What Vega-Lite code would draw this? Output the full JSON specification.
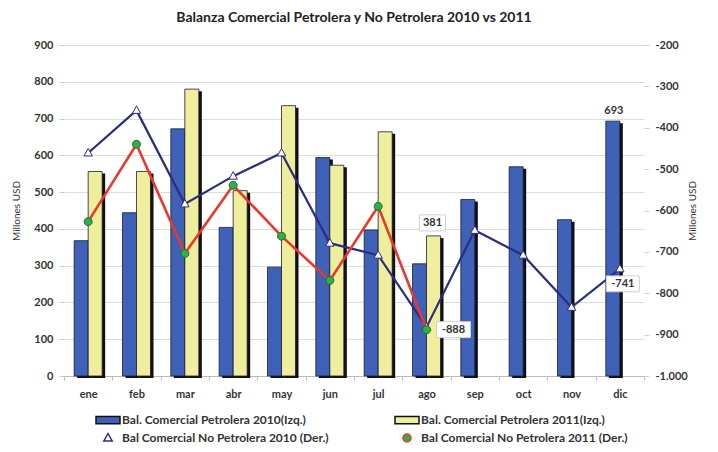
{
  "$schema": "https://vega.github.io/schema/vega-lite/v6.json",
  "width": 580,
  "height": 331,
  "padding": {"left": 11, "top": 11, "right": 5, "bottom": 0},
  "background": "white",
  "title": {"text": "Balanza Comercial Petrolera y No Petrolera 2010 vs 2011", "font": "Lato", "fontSize": 14, "fontWeight": "bold", "color": "#222", "anchor": "middle", "offset": 14},
  "config": {"view": {"stroke": null}, "font": "Lato"},
  "datasets": {
    "barras": [
      {"mes": "ene", "serie": "Bal. Comercial Petrolera 2010(Izq.)", "valor": 368},
      {"mes": "feb", "serie": "Bal. Comercial Petrolera 2010(Izq.)", "valor": 444},
      {"mes": "mar", "serie": "Bal. Comercial Petrolera 2010(Izq.)", "valor": 672},
      {"mes": "abr", "serie": "Bal. Comercial Petrolera 2010(Izq.)", "valor": 404},
      {"mes": "may", "serie": "Bal. Comercial Petrolera 2010(Izq.)", "valor": 296},
      {"mes": "jun", "serie": "Bal. Comercial Petrolera 2010(Izq.)", "valor": 594},
      {"mes": "jul", "serie": "Bal. Comercial Petrolera 2010(Izq.)", "valor": 397},
      {"mes": "ago", "serie": "Bal. Comercial Petrolera 2010(Izq.)", "valor": 305},
      {"mes": "sep", "serie": "Bal. Comercial Petrolera 2010(Izq.)", "valor": 480},
      {"mes": "oct", "serie": "Bal. Comercial Petrolera 2010(Izq.)", "valor": 569},
      {"mes": "nov", "serie": "Bal. Comercial Petrolera 2010(Izq.)", "valor": 425},
      {"mes": "dic", "serie": "Bal. Comercial Petrolera 2010(Izq.)", "valor": 693},
      {"mes": "ene", "serie": "Bal. Comercial Petrolera 2011(Izq.)", "valor": 556},
      {"mes": "feb", "serie": "Bal. Comercial Petrolera 2011(Izq.)", "valor": 556},
      {"mes": "mar", "serie": "Bal. Comercial Petrolera 2011(Izq.)", "valor": 780},
      {"mes": "abr", "serie": "Bal. Comercial Petrolera 2011(Izq.)", "valor": 504},
      {"mes": "may", "serie": "Bal. Comercial Petrolera 2011(Izq.)", "valor": 735},
      {"mes": "jun", "serie": "Bal. Comercial Petrolera 2011(Izq.)", "valor": 573},
      {"mes": "jul", "serie": "Bal. Comercial Petrolera 2011(Izq.)", "valor": 664},
      {"mes": "ago", "serie": "Bal. Comercial Petrolera 2011(Izq.)", "valor": 381}
    ],
    "lineas": [
      {"mes": "ene", "serie": "Bal Comercial No Petrolera 2010 (Der.)", "valor": -461},
      {"mes": "feb", "serie": "Bal Comercial No Petrolera 2010 (Der.)", "valor": -358},
      {"mes": "mar", "serie": "Bal Comercial No Petrolera 2010 (Der.)", "valor": -584},
      {"mes": "abr", "serie": "Bal Comercial No Petrolera 2010 (Der.)", "valor": -517},
      {"mes": "may", "serie": "Bal Comercial No Petrolera 2010 (Der.)", "valor": -461},
      {"mes": "jun", "serie": "Bal Comercial No Petrolera 2010 (Der.)", "valor": -679},
      {"mes": "jul", "serie": "Bal Comercial No Petrolera 2010 (Der.)", "valor": -708},
      {"mes": "ago", "serie": "Bal Comercial No Petrolera 2010 (Der.)", "valor": -882},
      {"mes": "sep", "serie": "Bal Comercial No Petrolera 2010 (Der.)", "valor": -648},
      {"mes": "oct", "serie": "Bal Comercial No Petrolera 2010 (Der.)", "valor": -708},
      {"mes": "nov", "serie": "Bal Comercial No Petrolera 2010 (Der.)", "valor": -834},
      {"mes": "dic", "serie": "Bal Comercial No Petrolera 2010 (Der.)", "valor": -741},
      {"mes": "ene", "serie": "Bal Comercial No Petrolera 2011 (Der.)", "valor": -627},
      {"mes": "feb", "serie": "Bal Comercial No Petrolera 2011 (Der.)", "valor": -440},
      {"mes": "mar", "serie": "Bal Comercial No Petrolera 2011 (Der.)", "valor": -704},
      {"mes": "abr", "serie": "Bal Comercial No Petrolera 2011 (Der.)", "valor": -539},
      {"mes": "may", "serie": "Bal Comercial No Petrolera 2011 (Der.)", "valor": -662},
      {"mes": "jun", "serie": "Bal Comercial No Petrolera 2011 (Der.)", "valor": -769},
      {"mes": "jul", "serie": "Bal Comercial No Petrolera 2011 (Der.)", "valor": -590},
      {"mes": "ago", "serie": "Bal Comercial No Petrolera 2011 (Der.)", "valor": -888}
    ]
  },
  "encoding": {
    "x": {
      "field": "mes", "type": "nominal",
      "sort": ["ene", "feb", "mar", "abr", "may", "jun", "jul", "ago", "sep", "oct", "nov", "dic"],
      "scale": {"paddingInner": 0, "paddingOuter": 0},
      "axis": {"title": null, "labelAngle": 0, "labelFont": "Lato", "labelFontWeight": "bold", "labelFontSize": 11, "labelColor": "#333", "labelPadding": 8, "tickBand": "extent", "tickSize": 4, "tickColor": "#bbb", "domainColor": "#bbb"}
    }
  },
  "layer": [
    {
      "data": {"name": "barras"},
      "encoding": {
        "y": {
          "field": "valor", "type": "quantitative",
          "scale": {"domain": [0, 900], "nice": false},
          "axis": {"orient": "left", "title": "Millones USD", "titleFont": "Lato", "titleFontWeight": "normal", "titleFontSize": 10, "titleColor": "#333", "titlePadding": 12, "values": [0, 100, 200, 300, 400, 500, 600, 700, 800, 900], "labelFont": "Lato", "labelFontWeight": "bold", "labelFontSize": 11, "labelColor": "#333", "labelPadding": 6, "grid": true, "gridColor": "#dcdcdc", "domain": false, "tickColor": "#ccc", "tickSize": 5}
        }
      },
      "layer": [
        {
          "transform": [{"filter": "datum.serie == 'Bal. Comercial Petrolera 2010(Izq.)'"}],
          "mark": {"type": "bar", "color": "#111", "width": {"band": 0.29}, "xOffset": -4, "yOffset": 2}
        },
        {
          "transform": [{"filter": "datum.serie == 'Bal. Comercial Petrolera 2011(Izq.)'"}],
          "mark": {"type": "bar", "color": "#111", "width": {"band": 0.29}, "xOffset": 10, "yOffset": 2}
        },
        {
          "transform": [{"filter": "datum.serie == 'Bal. Comercial Petrolera 2010(Izq.)'"}],
          "mark": {"type": "bar", "width": {"band": 0.29}, "xOffset": -7, "stroke": "#1a1a3a", "strokeWidth": 0.8},
          "encoding": {
            "fill": {
              "field": "serie", "type": "nominal",
              "scale": {
                "domain": ["Bal. Comercial Petrolera 2010(Izq.)", "Bal Comercial No Petrolera 2010 (Der.)", "Bal. Comercial Petrolera 2011(Izq.)", "Bal Comercial No Petrolera 2011 (Der.)"],
                "range": ["#3f61b8", "#ffffff", "#eeee9c", "#2fae4a"]
              },
              "legend": {
                "title": null, "orient": "none", "legendX": 33, "legendY": 364, "columns": 2, "columnPadding": 63, "rowPadding": 0,
                "labelFont": "Lato", "labelFontWeight": "bold", "labelFontSize": 12, "labelColor": "#333", "labelOffset": 3, "labelLimit": 300,
                "symbolSize": 400, "symbolStrokeWidth": 1.5, "symbolOpacity": 1
              }
            }
          }
        },
        {
          "transform": [{"filter": "datum.serie == 'Bal. Comercial Petrolera 2011(Izq.)'"}],
          "mark": {"type": "bar", "width": {"band": 0.29}, "xOffset": 7, "stroke": "#1a1a3a", "strokeWidth": 0.8},
          "encoding": {"fill": {"field": "serie", "type": "nominal"}}
        },
        {
          "transform": [{"filter": "datum.mes == 'dic'"}],
          "mark": {"type": "text", "dy": -10, "xOffset": -6, "font": "Lato", "fontWeight": "bold", "fontSize": 11, "color": "#333"},
          "encoding": {"text": {"field": "valor", "type": "nominal"}}
        },
        {
          "transform": [{"filter": "datum.mes == 'ago' && datum.serie == 'Bal. Comercial Petrolera 2011(Izq.)'"}],
          "mark": {"type": "point", "shape": "M-1,-0.62H1V0.62H-1Z", "size": 676, "filled": true, "fill": "white", "stroke": "#cfcfcf", "strokeWidth": 1, "opacity": 1, "xOffset": 6, "yOffset": -13}
        },
        {
          "transform": [{"filter": "datum.mes == 'ago' && datum.serie == 'Bal. Comercial Petrolera 2011(Izq.)'"}],
          "mark": {"type": "text", "dy": -13, "xOffset": 6, "font": "Lato", "fontWeight": "bold", "fontSize": 11, "color": "#333"},
          "encoding": {"text": {"field": "valor", "type": "nominal"}}
        }
      ]
    },
    {
      "data": {"name": "lineas"},
      "encoding": {
        "y": {
          "field": "valor", "type": "quantitative",
          "scale": {"domain": [-1000, -200], "nice": false},
          "axis": {"orient": "right", "title": "Millones USD", "titleAngle": -90, "titleFont": "Lato", "titleFontWeight": "normal", "titleFontSize": 10, "titleColor": "#333", "titlePadding": 10, "values": [-1000, -900, -800, -700, -600, -500, -400, -300, -200], "labelExpr": "datum.value == -1000 ? '-1.000' : toString(datum.value)", "labelFont": "Lato", "labelFontWeight": "bold", "labelFontSize": 11, "labelColor": "#333", "labelPadding": 6, "grid": false, "domain": false, "tickColor": "#ccc", "tickSize": 5}
        }
      },
      "layer": [
        {
          "transform": [{"filter": "datum.serie == 'Bal Comercial No Petrolera 2010 (Der.)'"}],
          "mark": {"type": "line", "strokeWidth": 2.2},
          "encoding": {
            "stroke": {
              "field": "serie", "type": "nominal",
              "scale": {
                "domain": ["Bal. Comercial Petrolera 2010(Izq.)", "Bal Comercial No Petrolera 2010 (Der.)", "Bal. Comercial Petrolera 2011(Izq.)", "Bal Comercial No Petrolera 2011 (Der.)"],
                "range": ["#111111", "#2c2c80", "#111111", "#e8392a"]
              }
            }
          }
        },
        {
          "transform": [{"filter": "datum.serie == 'Bal Comercial No Petrolera 2010 (Der.)'"}],
          "mark": {"type": "point", "filled": true, "stroke": "#2c2c80", "strokeWidth": 1, "size": 400, "opacity": 1},
          "encoding": {
            "fill": {"field": "serie", "type": "nominal"},
            "shape": {
              "field": "serie", "type": "nominal",
              "scale": {
                "domain": ["Bal. Comercial Petrolera 2010(Izq.)", "Bal Comercial No Petrolera 2010 (Der.)", "Bal. Comercial Petrolera 2011(Izq.)", "Bal Comercial No Petrolera 2011 (Der.)"],
                "range": ["M-1.2,-0.36H1.2V0.36H-1.2Z", "M0,-0.45L0.42,0.3L-0.42,0.3Z", "M-1.2,-0.36H1.2V0.36H-1.2Z", "M0.4,0A0.4,0.4 0 1,1 -0.4,0A0.4,0.4 0 1,1 0.4,0Z"]
              }
            }
          }
        },
        {
          "transform": [{"filter": "datum.serie == 'Bal Comercial No Petrolera 2011 (Der.)'"}],
          "mark": {"type": "line", "strokeWidth": 2.6},
          "encoding": {"stroke": {"field": "serie", "type": "nominal"}}
        },
        {
          "transform": [{"filter": "datum.serie == 'Bal Comercial No Petrolera 2011 (Der.)'"}],
          "mark": {"type": "point", "filled": true, "stroke": "#1f6e2e", "strokeWidth": 1, "size": 400, "opacity": 1},
          "encoding": {
            "fill": {"field": "serie", "type": "nominal"},
            "shape": {"field": "serie", "type": "nominal"}
          }
        },
        {
          "transform": [{"filter": "datum.mes == 'ago' && datum.serie == 'Bal Comercial No Petrolera 2011 (Der.)'"}],
          "mark": {"type": "point", "shape": "M-1,-0.47H1V0.47H-1Z", "size": 1156, "filled": true, "fill": "white", "stroke": "#cfcfcf", "strokeWidth": 1, "opacity": 1, "xOffset": 27}
        },
        {
          "transform": [{"filter": "datum.mes == 'ago' && datum.serie == 'Bal Comercial No Petrolera 2011 (Der.)'"}],
          "mark": {"type": "text", "align": "center", "dx": 27, "font": "Lato", "fontWeight": "bold", "fontSize": 11, "color": "#333"},
          "encoding": {"text": {"field": "valor", "type": "nominal"}}
        },
        {
          "transform": [{"filter": "datum.mes == 'dic' && datum.serie == 'Bal Comercial No Petrolera 2010 (Der.)'"}],
          "mark": {"type": "point", "shape": "M-1,-0.48H1V0.48H-1Z", "size": 1089, "filled": true, "fill": "white", "stroke": "#cfcfcf", "strokeWidth": 1, "opacity": 1, "xOffset": 3, "yOffset": 15}
        },
        {
          "transform": [{"filter": "datum.mes == 'dic' && datum.serie == 'Bal Comercial No Petrolera 2010 (Der.)'"}],
          "mark": {"type": "text", "align": "center", "dx": 3, "dy": 15, "font": "Lato", "fontWeight": "bold", "fontSize": 11, "color": "#333"},
          "encoding": {"text": {"field": "valor", "type": "nominal"}}
        }
      ]
    }
  ],
  "resolve": {"scale": {"y": "independent"}}
}
